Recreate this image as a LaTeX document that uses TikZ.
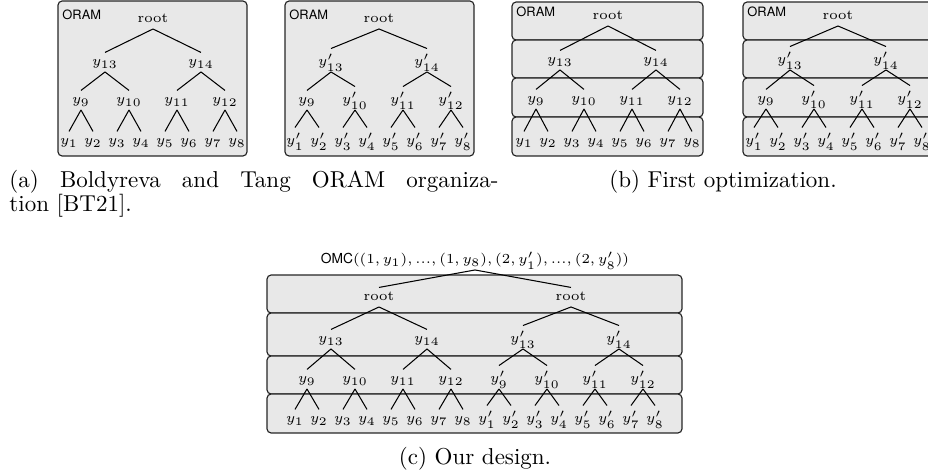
\documentclass[tikz,border=0pt]{standalone}
\usepackage{fontspec}
\newfontfamily\heros{TeX Gyre Heros}
\newcommand\myprn{}
\newcommand\myprp{'}
% #1 prefix, #2 centre x, #3-#6 row y, #7 n/p (plain/primed), #8 n/p for y9
\newcommand\mytree[8]{%
  \node[tn] (#1r) at (#2,#3+3) {root};
  \node[t#7] (#1n13) at ({#2-48},#4+3) {$y\csname mypr#7\endcsname_{13}$};
  \node[t#7] (#1n14) at ({#2+48},#4+3) {$y\csname mypr#7\endcsname_{14}$};
  \node[t#8] (#1n9)  at ({#2-72},#5+3) {$y\csname mypr#8\endcsname_{9}$};
  \node[t#7] (#1n10) at ({#2-24},#5+3) {$y\csname mypr#7\endcsname_{10}$};
  \node[t#7] (#1n11) at ({#2+24},#5+3) {$y\csname mypr#7\endcsname_{11}$};
  \node[t#7] (#1n12) at ({#2+72},#5+3) {$y\csname mypr#7\endcsname_{12}$};
  \foreach \i in {1,...,8}{\node[t#7] (#1l\i) at ({#2-108+24*\i},#6+3) {$y\csname mypr#7\endcsname_{\i}$};}
  \draw[conn] (#1r.south) -- (#1n13.north);
  \draw[conn] (#1r.south) -- (#1n14.north);
  \draw[conn] (#1n13.south) -- (#1n9.north);
  \draw[conn] (#1n13.south) -- (#1n10.north);
  \draw[conn] (#1n14.south) -- (#1n11.north);
  \draw[conn] (#1n14.south) -- (#1n12.north);
  \foreach \p/\a/\b in {9/1/2,10/3/4,11/5/6,12/7/8}{
    \draw[conn] (#1n\p.south) -- (#1l\a.north);
    \draw[conn] (#1n\p.south) -- (#1l\b.north);}
}
\begin{document}
\begin{tikzpicture}[x=0.4348pt,y=-0.4348pt,
  tn/.style={inner sep=1.2pt,text height=4.5pt,text depth=1.2pt,anchor=base,font=\fontsize{6}{7}\selectfont},
  tp/.style={tn,text height=6.2pt},
  conn/.style={line width=0.45pt},
  layerbox/.style={draw=black!85,fill=black!9,line width=0.5pt,rounded corners=1.8pt},
  lbl/.style={font=\heros\fontsize{5.6}{6.5}\selectfont,inner sep=0pt,anchor=north west},
  captxt/.style={font=\fontsize{10}{12}\selectfont,inner sep=0pt}]
\useasboundingbox (0,0) rectangle (928,476);
% panel (a)
\draw[layerbox] (58,1) rectangle (247,156);
\draw[layerbox] (285,1) rectangle (474,156);
\node[lbl] (oa1) at (62,9) {ORAM};
\node[lbl] (oa2) at (289,9) {ORAM};
\mytree{a1}{153}{20}{63}{101}{142}{n}{n}
\mytree{a2}{379}{20}{63}{101}{142}{p}{n}
% panel (b)
\foreach \t/\b in {2/40,40/78,78/117,117/156}{
  \draw[layerbox] (512,\t) rectangle (703,\b);
  \draw[layerbox] (743,\t) rectangle (933,\b);}
\node[lbl] (ob1) at (516,6) {ORAM};
\node[lbl] (ob2) at (747,6) {ORAM};
\mytree{b1}{608}{17}{61}{100}{142}{n}{n}
\mytree{b2}{838}{17}{61}{100}{142}{p}{n}
% captions
\node[captxt,anchor=base west] (capa1) at (9,188) {\makebox[212.6pt][s]{(a) Boldyreva and Tang ORAM organiza-}};
\node[captxt,anchor=base west] (capa2) at (9,212) {tion [BT21].};
\node[captxt,anchor=base] (capb) at (723,188) {(b) First optimization.};
% panel (c)
\foreach \t/\b in {275/313,313/356,356/394,394/433}{
  \draw[layerbox] (267,\t) rectangle (682,\b);}
\mytree{cl}{379}{298}{340}{380}{420}{n}{n}
\mytree{cr}{571}{298}{340}{380}{420}{p}{p}
\node[tn] (omc) at (475,264) {{\heros OMC}$((1,y_1),...,(1,y_8),(2,y'_1),...,(2,y'_8))$};
\draw[conn] (omc.south) -- (clr.north);
\draw[conn] (omc.south) -- (crr.north);
\node[captxt,anchor=base] (capc) at (475,464) {(c) Our design.};
\end{tikzpicture}
\end{document}
